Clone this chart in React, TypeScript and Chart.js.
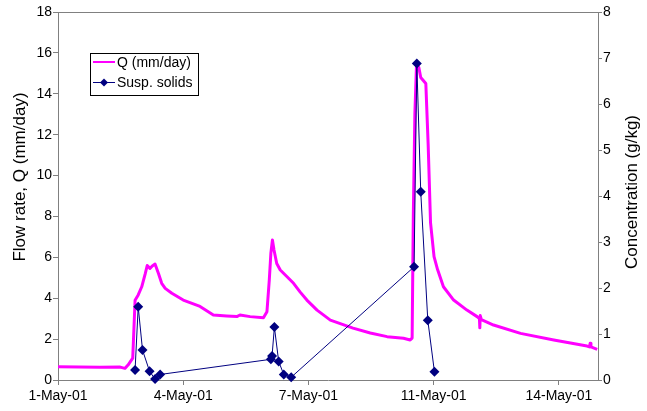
import React, { useEffect, useRef } from "react";
import { Chart, registerables } from "chart.js";

Chart.register(...registerables);

const FONT = "'Liberation Sans', Arial, Helvetica, sans-serif";

// x values are days counted from 1-May-01 00:00
const qDays = [
  0.5, 1.57, 2.09, 2.21, 2.29, 2.41, 2.47, 2.55, 2.64, 2.73, 2.78, 2.85, 2.91, 2.98,
  3.07, 3.15, 3.24, 3.41, 3.7, 4.13, 4.47, 4.81, 5.07, 5.15, 5.41, 5.75, 5.84, 5.9,
  5.94, 5.98, 6.02, 6.09, 6.18, 6.52, 6.69, 6.86, 7.12, 7.46, 8.04, 8.48, 8.91, 9.33,
  9.5, 9.55, 9.58, 9.62, 9.66, 9.72, 9.77, 9.9, 9.96, 10.02, 10.11, 10.2, 10.35, 10.61,
  10.95, 11.21, 11.27, 11.28, 11.29, 11.32, 11.63, 12.32, 13.17, 14.02, 14.08, 14.1,
  14.12, 14.28,
];
const qValues = [
  0.65, 0.62, 0.63, 0.57, 0.73, 1.07, 3.9, 4.16, 4.56, 5.2, 5.6, 5.46, 5.58, 5.67,
  5.2, 4.73, 4.48, 4.24, 3.91, 3.6, 3.18, 3.13, 3.1, 3.18, 3.1, 3.05, 3.34, 4.9,
  6.2, 6.85, 6.36, 5.7, 5.38, 4.73, 4.3, 3.91, 3.42, 2.93, 2.54, 2.3, 2.12, 2.04,
  1.96, 2.05, 8.0, 13.0, 15.3, 15.3, 14.8, 14.5, 11.5, 7.7, 6.03, 5.4, 4.56, 3.91,
  3.42, 3.1, 3.0, 2.55, 3.15, 2.95, 2.69, 2.28, 1.96, 1.66, 1.62, 1.8,
  1.62, 1.5,
];

const ssDays = [
  2.47, 2.55, 2.66, 2.84, 2.98, 3.11, 5.94, 5.97, 6.03, 6.14, 6.27, 6.46, 9.6, 9.67,
  9.77, 9.95, 10.12,
];
const ssValues = [
  0.22, 1.59, 0.65, 0.19, 0.02, 0.12, 0.45, 0.52, 1.15, 0.4, 0.12, 0.06, 2.46, 6.88,
  4.09, 1.3, 0.18,
];

const xTickDays = [0.5, 3.7, 6.9, 10.1, 13.3];
const xTickLabels = ["1-May-01", "4-May-01", "7-May-01", "11-May-01", "14-May-01"];

const seriesLabels = ["Q (mm/day)", "Susp. solids"];
const leftTitle = "Flow rate, Q (mm/day)";
const rightTitle = "Concentration (g/kg)";

const Q_COLOR = "#FF00FF";
const SS_COLOR = "#000080";
const AXIS_COLOR = "#808080";

const decorPlugin = {
  id: "decor",
  afterDraw(chart: any) {
    const { ctx, chartArea: ca } = chart;
    ctx.save();
    // top frame line
    ctx.strokeStyle = AXIS_COLOR;
    ctx.lineWidth = 1;
    ctx.beginPath();
    ctx.moveTo(ca.left, Math.round(ca.top) + 0.5);
    ctx.lineTo(ca.right, Math.round(ca.top) + 0.5);
    ctx.stroke();

    // axis titles
    ctx.fillStyle = "#000";
    ctx.font = `17px ${FONT}`;
    ctx.textAlign = "center";
    ctx.textBaseline = "middle";
    ctx.save();
    ctx.translate(20, 177);
    ctx.rotate(-Math.PI / 2);
    ctx.fillText(leftTitle, 0, 0);
    ctx.restore();
    ctx.save();
    ctx.translate(632, 192);
    ctx.rotate(-Math.PI / 2);
    ctx.fillText(rightTitle, 0, 0);
    ctx.restore();

    // legend
    const bx = 90.5, by = 53.5, bw = 108, bh = 42;
    ctx.fillStyle = "#fff";
    ctx.fillRect(bx, by, bw, bh);
    ctx.strokeStyle = "#000";
    ctx.lineWidth = 1;
    ctx.strokeRect(bx, by, bw, bh);

    const rows = [62, 82];
    // Q row
    ctx.strokeStyle = Q_COLOR;
    ctx.lineWidth = 2;
    ctx.beginPath();
    ctx.moveTo(93, rows[0]);
    ctx.lineTo(115, rows[0]);
    ctx.stroke();
    // SS row
    ctx.strokeStyle = SS_COLOR;
    ctx.lineWidth = 1;
    ctx.beginPath();
    ctx.moveTo(93, rows[1] + 0.5);
    ctx.lineTo(115, rows[1] + 0.5);
    ctx.stroke();
    ctx.fillStyle = SS_COLOR;
    ctx.beginPath();
    const cx = 104, cy = rows[1] + 0.5, r = 4;
    ctx.moveTo(cx, cy - r);
    ctx.lineTo(cx + r, cy);
    ctx.lineTo(cx, cy + r);
    ctx.lineTo(cx - r, cy);
    ctx.closePath();
    ctx.fill();

    ctx.fillStyle = "#000";
    ctx.font = `14px ${FONT}`;
    ctx.textAlign = "left";
    ctx.textBaseline = "middle";
    ctx.fillText(seriesLabels[0], 117, rows[0] + 1);
    ctx.fillText(seriesLabels[1], 117, rows[1] + 1);
    ctx.restore();
  },
};

export default function App() {
  const canvasRef = useRef<HTMLCanvasElement | null>(null);

  useEffect(() => {
    if (!canvasRef.current) return;
    const tickFont = { family: FONT, size: 14 };
    const chart = new Chart(canvasRef.current, {
      type: "line",
      data: {
        datasets: [
          {
            label: seriesLabels[1],
            data: ssDays.map((d, i) => ({ x: d, y: ssValues[i] })),
            borderColor: SS_COLOR,
            backgroundColor: SS_COLOR,
            borderWidth: 1,
            pointStyle: "rectRot",
            pointRadius: 5,
            pointBackgroundColor: SS_COLOR,
            pointBorderColor: SS_COLOR,
            pointBorderWidth: 0,
            yAxisID: "y2",
            tension: 0,
            clip: false as any,
            order: 0,
          },
          {
            label: seriesLabels[0],
            data: qDays.map((d, i) => ({ x: d, y: qValues[i] })),
            borderColor: Q_COLOR,
            backgroundColor: Q_COLOR,
            borderWidth: 3,
            pointRadius: 0,
            yAxisID: "y",
            tension: 0,
            borderJoinStyle: "round",
            order: 1,
          },
        ],
      },
      options: {
        animation: false,
        responsive: true,
        maintainAspectRatio: false,
        layout: { padding: { top: 12, left: 0, right: 0, bottom: 0 } },
        plugins: {
          legend: { display: false },
          tooltip: { enabled: false },
        },
        scales: {
          x: {
            type: "linear",
            min: 0.5,
            max: 14.3,
            afterBuildTicks: (s: any) => {
              s.ticks = xTickDays.map((v) => ({ value: v }));
            },
            afterFit: (s: any) => {
              s.height = 31;
            },
            ticks: {
              callback: (v: any) => {
                const i = xTickDays.indexOf(Number(v));
                return i >= 0 ? xTickLabels[i] : "";
              },
              font: tickFont,
              color: "#000",
              maxRotation: 0,
              autoSkip: false,
              padding: 3,
            },
            grid: {
              drawOnChartArea: false,
              drawTicks: true,
              tickLength: 5,
              color: AXIS_COLOR,
            },
            border: { color: AXIS_COLOR, width: 1 },
          },
          y: {
            position: "left",
            min: 0,
            max: 18,
            afterFit: (s: any) => {
              s.width = 58;
            },
            ticks: { stepSize: 2, font: tickFont, color: "#000", padding: 1 },
            grid: {
              drawOnChartArea: false,
              drawTicks: true,
              tickLength: 5,
              color: AXIS_COLOR,
            },
            border: { color: AXIS_COLOR, width: 1 },
          },
          y2: {
            position: "right",
            min: 0,
            max: 8,
            afterFit: (s: any) => {
              s.width = 49;
            },
            ticks: { stepSize: 1, font: tickFont, color: "#000", padding: 1 },
            grid: {
              drawOnChartArea: false,
              drawTicks: true,
              tickLength: 4,
              color: AXIS_COLOR,
            },
            border: { color: AXIS_COLOR, width: 1 },
          },
        },
      },
      plugins: [decorPlugin],
    } as any);
    return () => chart.destroy();
  }, []);

  return (
    <div
      style={{
        position: "absolute",
        left: 0,
        top: 0,
        width: 647,
        height: 411,
        background: "#fff",
      }}
    >
      <canvas ref={canvasRef} />
    </div>
  );
}
